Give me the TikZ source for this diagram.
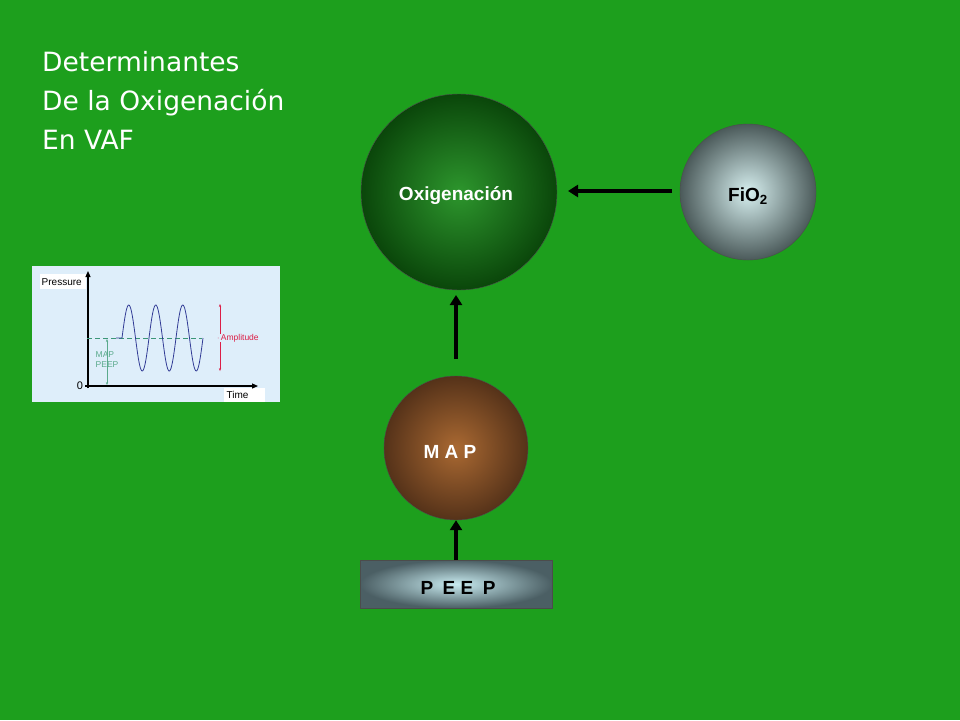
\documentclass[tikz,border=0pt]{standalone}
\usepackage{fontspec}
\setmainfont{DejaVu Sans}
\newfontfamily\arial{Liberation Sans}
\usetikzlibrary{arrows.meta}
\definecolor{bg}{HTML}{1D9F1D}
\definecolor{oxin}{RGB}{45,150,45}
\definecolor{oxout}{RGB}{10,70,10}
\definecolor{fin}{RGB}{215,240,240}
\definecolor{fout}{RGB}{75,90,90}
\definecolor{min}{RGB}{170,105,50}
\definecolor{mout}{RGB}{85,50,25}
\definecolor{pin}{RGB}{200,235,240}
\definecolor{pout}{RGB}{75,95,100}
\definecolor{insetbg}{RGB}{222,238,250}
\definecolor{teal}{RGB}{60,150,120}
\definecolor{teal2}{RGB}{90,170,140}
\definecolor{wave}{RGB}{50,60,150}
\definecolor{ampred}{RGB}{220,30,70}
\tikzset{x=1pt,y=-1pt,
 conn/.style={line width=4pt,-{Triangle[length=10pt,width=12pt]}},
 lbl/.style={text=white,font=\arial\bfseries\fontsize{19}{22}\selectfont},
 small/.style={font=\arial\fontsize{8.5}{10}\selectfont,inner sep=0.5pt}}
\begin{document}
\begin{tikzpicture}
\fill[bg] (0,0) rectangle (960,720);
\useasboundingbox (0,0) rectangle (960,720);
\node[anchor=north west,align=left,text=white,font=\fontsize{26.5}{39}\selectfont,inner sep=0pt] (title) at (42,51) {Determinantes\\De la Oxigenación\\En VAF};
% circles
\node[circle,draw=black!70,minimum size=196pt,inner color=oxin,outer color=oxout] (oxi) at (459,192) {};
\node[lbl] at (456,196) {Oxigenación};
\node[circle,draw=black!70,minimum size=136pt,inner color=fin,outer color=fout] (fio) at (748,192) {};
\node[lbl,text=black] at (748,196) {FiO\textsubscript{2}};
\node[circle,draw=black!70,minimum size=144pt,inner color=min,outer color=mout] (map) at (456,448) {};
\node[lbl] at (450,452) {M A P};
\node[draw=black!70,minimum width=192pt,minimum height=48pt,inner color=pin,outer color=pout] (peep) at (456,584) {};
\node[lbl,text=black] at (458,588) {P\enspace E E\enspace P};
\coordinate (fs) at (672,191);
\coordinate (fe) at (568,191);
\draw[conn] (fs) -- (fe);
\coordinate (ms) at (456,359);
\coordinate (me) at (456,295);
\draw[conn] (ms) -- (me);
\coordinate (ps) at (456,560);
\draw[conn] (ps) -- (map.south);
% inset
\fill[insetbg] (32,266) rectangle (280,402);
\fill[white] (40,274) rectangle (86,289);
\node[small,font=\arial\fontsize{10}{10}\selectfont,anchor=west] (pr) at (41,282) {Pressure};
\fill[white] (224,388) rectangle (265,402);
\node[small,font=\arial\fontsize{10}{10}\selectfont,anchor=west] (tm) at (226,395) {Time};
\node[small,font=\arial\fontsize{11}{11}\selectfont] (zero) at (80,386) {0};
\draw[line width=1.2pt,-{Triangle[length=6pt,width=5pt]}] (88,388) -- (88,271);
\draw[line width=1.2pt,-{Triangle[length=6pt,width=5pt]}] (85,386) -- (258,386);
\draw[teal,thick,dash pattern=on 5pt off 3pt] (87,338) -- (202,338);
\draw[wave,thick] (116,338) -- (122,338) plot[domain=0:81,samples=120,smooth] ({122+\x},{338-33*sin(\x/27*360)});
\draw[ampred,-{Stealth[length=3pt]}] (220,334) -- (220,304);
\draw[ampred,-{Stealth[length=3pt]}] (220,342) -- (220,371);
\node[small,text=ampred,anchor=west] (amp) at (215,338) {\,$\cdot$\,Amplitude};
\draw[teal2,{Stealth[length=3pt]}-{Stealth[length=3pt]}] (107,339) -- (107,385);
\node[small,text=teal2,align=left,anchor=west] (mp) at (95,360) {MAP\\PEEP};
\end{tikzpicture}
\end{document}
